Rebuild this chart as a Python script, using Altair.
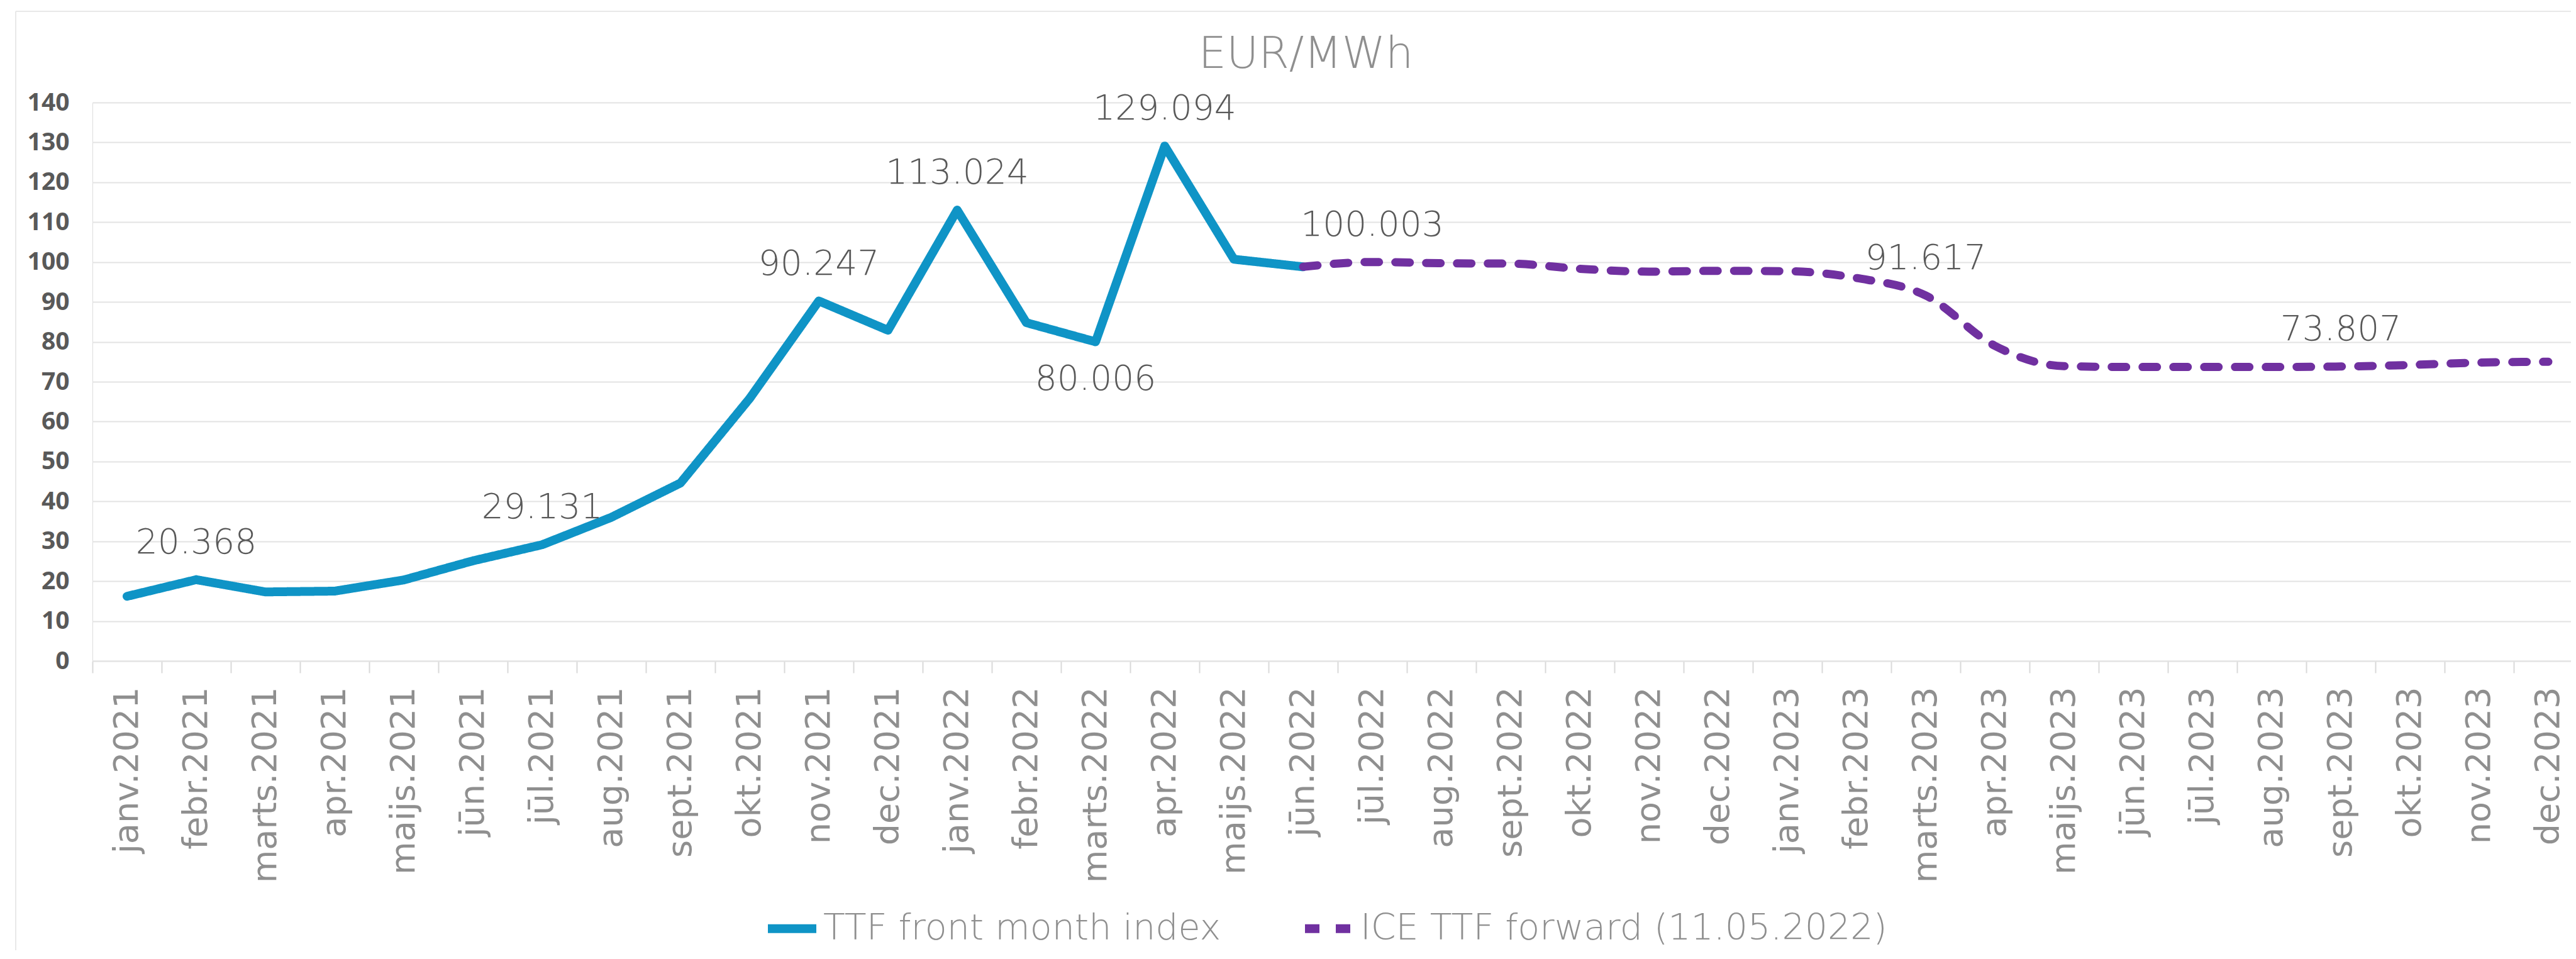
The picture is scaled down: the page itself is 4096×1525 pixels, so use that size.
import altair as alt
import pandas as pd

# ---- data -------------------------------------------------------------
months = [
    "janv.2021", "febr.2021", "marts.2021", "apr.2021", "maijs.2021", "jūn.2021",
    "jūl.2021", "aug.2021", "sept.2021", "okt.2021", "nov.2021", "dec.2021",
    "janv.2022", "febr.2022", "marts.2022", "apr.2022", "maijs.2022", "jūn.2022",
    "jūl.2022", "aug.2022", "sept.2022", "okt.2022", "nov.2022", "dec.2022",
    "janv.2023", "febr.2023", "marts.2023", "apr.2023", "maijs.2023", "jūn.2023",
    "jūl.2023", "aug.2023", "sept.2023", "okt.2023", "nov.2023", "dec.2023",
]

ttf_name = "TTF front month index"
fwd_name = "ICE TTF forward (11.05.2022)"

ttf_months = months[:18]
ttf_values = [16.2, 20.368, 17.3, 17.5, 20.3, 25.1, 29.131, 36.0, 44.6, 65.8,
              90.247, 82.9, 113.024, 84.8, 80.006, 129.094, 100.7, 98.8]

fwd_months = months[17:]
fwd_values = [98.8, 100.003, 99.7, 99.6, 98.3, 97.6, 97.8, 97.7, 96.0, 91.617,
              79.0, 73.9, 73.7, 73.7, 73.7, 73.807, 74.2, 74.8, 75.0]

ttf_labels_above = ["febr.2021", "jūl.2021", "nov.2021", "janv.2022", "apr.2022"]
ttf_labels_below = ["marts.2022"]
fwd_labels_above = ["jūl.2022", "marts.2023", "sept.2023"]

y_ticks = [0, 10, 20, 30, 40, 50, 60, 70, 80, 90, 100, 110, 120, 130, 140]

# ---- table ------------------------------------------------------------
ttf_df = pd.DataFrame({"month": ttf_months, "value": ttf_values, "series": ttf_name})
fwd_df = pd.DataFrame({"month": fwd_months, "value": fwd_values, "series": fwd_name})
df = pd.concat([ttf_df, fwd_df], ignore_index=True)
df["above"] = ((df["series"] == ttf_name) & df["month"].isin(ttf_labels_above)) | \
              ((df["series"] == fwd_name) & df["month"].isin(fwd_labels_above))
df["below"] = (df["series"] == ttf_name) & df["month"].isin(ttf_labels_below)

# ---- styling ----------------------------------------------------------
BLUE = "#0f94c6"
PURPLE = "#7030a0"
GRID = "#e3e3e3"
LIGHT_FONT = "DejaVu Sans"

x_enc = alt.X(
    "month:N",
    sort=months,
    bandPosition=0.5,
    scale=alt.Scale(type="band", domain=months, range=[0, 3960],
                    paddingInner=0, paddingOuter=0),
    axis=alt.Axis(
        title=None, labelAngle=-90, labelFont="DejaVu Sans", labelFontSize=54,
        labelColor="#8f8f8f", labelPadding=22, tickSize=19, tickColor="#d9d9d9",
        tickWidth=2, tickBand="extent", domainColor=GRID, domainWidth=2,
        grid=False, labelOverlap=False, labelLimit=1000,
    ),
)
y_enc = alt.Y(
    "value:Q",
    scale=alt.Scale(domain=[0, 140], nice=False),
    axis=alt.Axis(
        title=None, values=y_ticks, domain=False, ticks=False,
        labelFont="Open Sans", labelFontWeight="bold", labelFontSize=39,
        labelColor="#595959", labelPadding=37, gridColor=GRID, gridWidth=2,
    ),
)
color_enc = alt.Color(
    "series:N",
    scale=alt.Scale(domain=[ttf_name, fwd_name], range=[BLUE, PURPLE]),
    legend=alt.Legend(
        title=None, orient="none", legendX=1067, legendY=1268,
        direction="horizontal", symbolType="stroke", symbolStrokeWidth=14,
        symbolSize=5929, labelFont=LIGHT_FONT, labelFontWeight=300,
        labelFontSize=57, labelColor="#8f8f8f", labelOffset=4,
        columnPadding=105, labelLimit=2000, padding=0,
    ),
)
dash_enc = alt.StrokeDash(
    "series:N",
    scale=alt.Scale(domain=[ttf_name, fwd_name], range=[[1, 0], [23, 26]]),
    legend=alt.Legend(title=None),
)

base = alt.Chart(df)

ttf_line = base.transform_filter(alt.datum.series == ttf_name).mark_line(
    strokeWidth=14, strokeCap="round", strokeJoin="round"
).encode(x=x_enc, y=y_enc, color=color_enc, strokeDash=dash_enc)

fwd_line = base.transform_filter(alt.datum.series == fwd_name).mark_line(
    strokeWidth=13, strokeCap="round", strokeJoin="round", interpolate="monotone"
).encode(x=x_enc, y=y_enc, color=color_enc, strokeDash=dash_enc)

label_style = dict(font=LIGHT_FONT, fontWeight=300, fontSize=55, color="#595959",
                   align="center", baseline="alphabetic")

labels_above = base.transform_filter(alt.datum.above).mark_text(
    dy=-42, **label_style
).encode(x=x_enc, y=y_enc, text=alt.Text("value:Q", format=".3f"))

labels_below = base.transform_filter(alt.datum.below).mark_text(
    dy=76, **label_style
).encode(x=x_enc, y=y_enc, text=alt.Text("value:Q", format=".3f"))

# chart frame (light border at the left and top of the chart area)
frame_left = alt.Chart(pd.DataFrame({"k": [0]})).mark_rule(
    color="#e8e8e8", strokeWidth=2, clip=False
).encode(x=alt.value(-122), y=alt.value(-145), y2=alt.value(1400))
frame_top = alt.Chart(pd.DataFrame({"k": [0]})).mark_rule(
    color="#e8e8e8", strokeWidth=2, clip=False
).encode(x=alt.value(-122), x2=alt.value(4000), y=alt.value(-145))

chart = alt.layer(
    frame_left, frame_top, ttf_line, fwd_line, labels_above, labels_below
).properties(
    width=3941,
    height=888,
    title=alt.TitleParams(
        "EUR/MWh", font=LIGHT_FONT, fontWeight=300, fontSize=70,
        color="#8f8f8f", anchor="middle", frame="group", dx=-41,
        baseline="alphabetic", offset=-161,
    ),
    autosize=alt.AutoSizeParams(type="none"),
    padding={"left": 139, "top": 155, "right": 0, "bottom": 460},
).configure_view(stroke=None).configure(background="white")

chart.save("out.html", embed_options={"renderer": "svg", "actions": False})
